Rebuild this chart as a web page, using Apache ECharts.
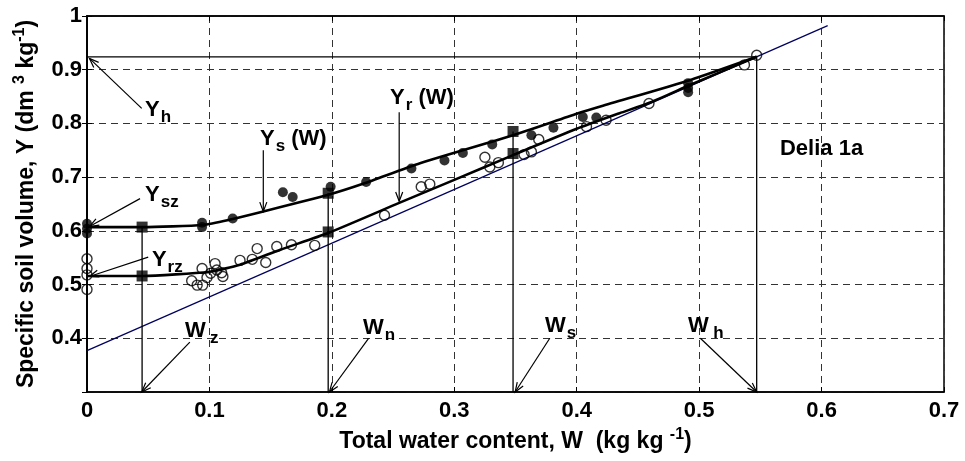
<!DOCTYPE html>
<html>
<head>
<meta charset="utf-8">
<script src="https://cdn.jsdelivr.net/npm/echarts@6/dist/echarts.min.js"></script>
<style>
  html, body { margin: 0; padding: 0; background: #fff; }
  #chart { width: 965px; height: 461px; }
</style>
</head>
<body>
<div id="chart"></div>
<script>
// Shrinkage curves of soil sample "Delia 1a": specific volume Y against water content W

// Fitted shrinkage curve of the whole soil, Ys(W)
const ysCurveW = [0, 0.045, 0.095, 0.117, 0.144, 0.197, 0.226, 0.272, 0.348, 0.400, 0.420, 0.493, 0.547];
const ysCurveY = [0.607, 0.607, 0.611, 0.621, 0.636, 0.667, 0.688, 0.726, 0.778, 0.818, 0.832, 0.881, 0.924];

// Fitted reference shrinkage curve, Yr(W)
const yrCurveW = [0, 0.045, 0.100, 0.125, 0.158, 0.197, 0.255, 0.300, 0.348, 0.400, 0.435, 0.460, 0.493, 0.547];
const yrCurveY = [0.516, 0.516, 0.524, 0.537, 0.565, 0.596, 0.652, 0.695, 0.741, 0.790, 0.819, 0.839, 0.872, 0.924];

// Saturation line (end points)
const satW = [0, 0.605];
const satY = [0.377, 0.982];

// Measured whole-soil volumes (filled circles)
const soilW = [0, 0, 0, 0.094, 0.094, 0.119, 0.160, 0.168, 0.199, 0.228, 0.265, 0.292, 0.307,
               0.331, 0.363, 0.381, 0.405, 0.416, 0.491, 0.491, 0.491];
const soilY = [0.613, 0.604, 0.595, 0.615, 0.607, 0.623, 0.672, 0.663, 0.682, 0.691, 0.716, 0.731, 0.745,
               0.761, 0.778, 0.792, 0.812, 0.811, 0.875, 0.866, 0.858];

// Measured reference volumes (open circles)
const refW = [0, 0, 0, 0, 0.0855, 0.090, 0.0945, 0.094, 0.098, 0.101, 0.1046, 0.106, 0.110, 0.111,
              0.125, 0.135, 0.139, 0.146, 0.155, 0.167, 0.186, 0.243, 0.273, 0.280,
              0.325, 0.329, 0.336, 0.357, 0.363, 0.369, 0.408, 0.424, 0.459, 0.537, 0.547];
const refY = [0.548, 0.530, 0.518, 0.491, 0.507, 0.499, 0.499, 0.530, 0.513, 0.521, 0.539, 0.527, 0.522, 0.515,
              0.545, 0.547, 0.567, 0.541, 0.571, 0.574, 0.573, 0.629, 0.682, 0.687,
              0.737, 0.719, 0.727, 0.742, 0.747, 0.770, 0.794, 0.806, 0.837, 0.909, 0.927];

// Characteristic points (filled squares)
const keyW = [0.045, 0.045, 0.197, 0.197, 0.348, 0.348];
const keyY = [0.607, 0.516, 0.670, 0.598, 0.785, 0.744];

// Vertical drop lines at Wz, Wn, Ws, Wh and the horizontal Yh line
const dropW = [0.045, 0.197, 0.348, 0.547];
const dropTop = [0.607, 0.670, 0.785, 0.924];
const Yh = 0.924;
const Wh = 0.547;

// Annotation arrows: start (W, Y) -> tip (W, Y)
const arrowW0 = [0.0447, 0.144, 0.255, 0.0433, 0.050, 0.084, 0.230, 0.378, 0.501];
const arrowY0 = [0.828, 0.750, 0.821, 0.660, 0.551, 0.393, 0.400, 0.400, 0.400];
const arrowW1 = [0.002, 0.144, 0.255, 0.002, 0.002, 0.0447, 0.198, 0.3497, 0.547];
const arrowY1 = [0.921, 0.636, 0.655, 0.608, 0.515, 0.300, 0.300, 0.300, 0.300];

// Annotation texts: anchor (left, middle) and text parts
const noteW = [0.0474, 0.1413, 0.2475, 0.0474, 0.053, 0.080, 0.2255, 0.374, 0.491, 0.566];
const noteY = [0.825, 0.771, 0.847, 0.667, 0.546, 0.413, 0.419, 0.423, 0.423, 0.752];
const noteMain = ['Y', 'Y', 'Y', 'Y', 'Y', 'W', 'W', 'W', 'W', 'Delia 1a'];
const noteSub = ['h', 's', 'r', 'sz', 'rz', '\u2009z', 'n', 's', '\u2009h', ''];
const noteTail = ['', ' (W)', ' (W)', '', '', '', '', '', '', ''];

const FONT = '"Liberation Sans", Arial, Helvetica, sans-serif';
const zip = (a, b) => a.map((v, i) => [v, b[i]]);

function renderArrow(params, api) {
  const p1 = api.coord([api.value(0), api.value(1)]);
  const p2 = api.coord([api.value(2), api.value(3)]);
  const ang = Math.atan2(p2[1] - p1[1], p2[0] - p1[0]);
  const L = 10, a = 0.36;
  const h1 = [p2[0] - L * Math.cos(ang - a), p2[1] - L * Math.sin(ang - a)];
  const h2 = [p2[0] - L * Math.cos(ang + a), p2[1] - L * Math.sin(ang + a)];
  return {
    type: 'group',
    children: [
      { type: 'line', shape: { x1: p1[0], y1: p1[1], x2: p2[0], y2: p2[1] },
        style: { stroke: '#000', lineWidth: 1.2 } },
      { type: 'polyline', shape: { points: [h1, p2, h2] },
        style: { stroke: '#000', lineWidth: 1.2, fill: null } }
    ]
  };
}

function renderNote(params, api) {
  const i = params.dataIndex;
  const p = api.coord([api.value(0), api.value(1)]);
  let txt = '{m|' + noteMain[i] + '}';
  if (noteSub[i]) txt += '{s|' + noteSub[i] + '}';
  if (noteTail[i]) txt += '{m|' + noteTail[i] + '}';
  return {
    type: 'text',
    x: p[0], y: p[1],
    style: {
      text: txt,
      align: 'left',
      verticalAlign: 'middle',
      fill: '#000',
      rich: {
        m: { fontSize: 22, fontWeight: 'bold', fontFamily: FONT, fill: '#000' },
        s: { fontSize: 17, fontWeight: 'bold', fontFamily: FONT, fill: '#000', padding: [14, 0, 0, 1] }
      }
    }
  };
}

const lineSeries = (data, width, color, z) => ({
  type: 'line', data, symbol: 'none', silent: true, z,
  lineStyle: { color, width }, animation: false
});

const series = [];
// saturation line
series.push(lineSeries(zip(satW, satY), 1.2, '#000060', 3));
// Yh horizontal and drop lines
series.push(lineSeries([[0, Yh], [Wh, Yh]], 1.3, '#000', 3));
dropW.forEach((w, i) => series.push(lineSeries([[w, dropTop[i]], [w, 0.3]], 1.3, '#000', 3)));
// fitted curves
series.push(Object.assign(lineSeries(zip(ysCurveW, ysCurveY), 2.6, '#000', 4), { smooth: 0.2 }));
series.push(Object.assign(lineSeries(zip(yrCurveW, yrCurveY), 2.6, '#000', 4), { smooth: 0.2 }));
// measurements
series.push({
  type: 'scatter', data: zip(soilW, soilY), symbol: 'circle', symbolSize: 10, z: 5,
  itemStyle: { color: '#000' }, silent: true, animation: false
});
series.push({
  type: 'scatter', data: zip(refW, refY), symbol: 'circle', symbolSize: 10, z: 5,
  itemStyle: { color: 'rgba(0,0,0,0)', borderColor: '#000', borderWidth: 1.4 }, silent: true, animation: false
});
series.push({
  type: 'scatter', data: zip(keyW, keyY), symbol: 'rect', symbolSize: 11, z: 6,
  itemStyle: { color: '#000' }, silent: true, animation: false
});
// annotation arrows and texts
series.push({
  type: 'custom', renderItem: renderArrow, z: 7, silent: true, animation: false,
  data: arrowW0.map((w, i) => [w, arrowY0[i], arrowW1[i], arrowY1[i]]),
  encode: { x: [0, 2], y: [1, 3] }
});
series.push({
  type: 'custom', renderItem: renderNote, z: 8, silent: true, animation: false,
  data: zip(noteW, noteY), encode: { x: 0, y: 1 }
});

const axisFont = { fontSize: 22, fontWeight: 'bold', fontFamily: FONT, color: '#000' };
const dashed = { show: true, lineStyle: { color: '#333', type: [7, 5], width: 1 } };
const titleStyle = {
  fontSize: 23, fontWeight: 'bold', fontFamily: FONT, color: '#000',
  rich: { sup: { fontSize: 16, fontWeight: 'bold', fontFamily: FONT, color: '#000', padding: [0, 0, 13, 0] } }
};

const chart = echarts.init(document.getElementById('chart'), null, { renderer: 'canvas' });
chart.setOption({
  animation: false,
  backgroundColor: '#fff',
  grid: { left: 87, right: 21, top: 16, bottom: 69, show: true, borderColor: '#000', borderWidth: 1.5, backgroundColor: 'transparent' },
  xAxis: [{
    type: 'value', min: 0, max: 0.7, interval: 0.1,
    axisLine: { show: true, onZero: false, lineStyle: { color: '#000', width: 1.5 } },
    axisTick: { show: true, inside: true, length: 5, lineStyle: { color: '#000', width: 1 } },
    axisLabel: Object.assign({ margin: 8 }, axisFont),
    splitLine: dashed,
    name: 'Total water content, W  (kg kg {sup|-1})',
    nameLocation: 'middle', nameGap: 35,
    nameTextStyle: titleStyle
  }, {
    type: 'value', position: 'top', min: 0, max: 0.7, interval: 0.1,
    axisLine: { show: true, lineStyle: { color: '#000', width: 1.5 } },
    axisTick: { show: true, inside: true, length: 5, lineStyle: { color: '#000' } },
    axisLabel: { show: false }, splitLine: { show: false }
  }],
  yAxis: [{
    type: 'value', min: 0.3, max: 1, interval: 0.1,
    axisLine: { show: true, onZero: false, lineStyle: { color: '#000', width: 1.5 } },
    axisTick: { show: true, inside: true, length: 5, lineStyle: { color: '#000', width: 1 } },
    axisLabel: Object.assign({ margin: 5, showMinLabel: false }, axisFont),
    splitLine: dashed,
    name: 'Specific soil volume, Y (dm {sup|3} kg{sup|-1})',
    nameLocation: 'middle', nameRotate: 90, nameGap: 46,
    nameTextStyle: titleStyle
  }, {
    type: 'value', position: 'right', min: 0.3, max: 1, interval: 0.1,
    axisLine: { show: true, lineStyle: { color: '#000', width: 1.5 } },
    axisTick: { show: true, inside: true, length: 5, lineStyle: { color: '#000' } },
    axisLabel: { show: false }, splitLine: { show: false }
  }],
  series
});
</script>
</body>
</html>
